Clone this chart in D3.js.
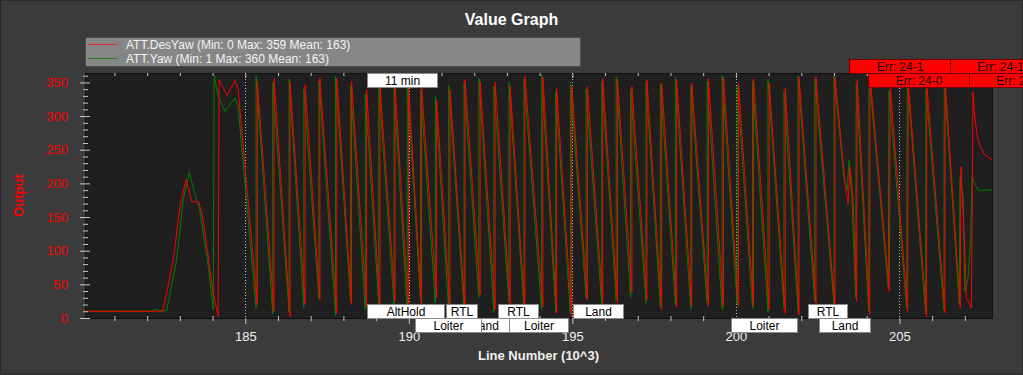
<!DOCTYPE html>
<html>
<head>
<meta charset="utf-8">
<script src="https://d3js.org/d3.v7.min.js"></script>
<style>
  html, body { margin: 0; padding: 0; background: #3b3b3b; overflow: hidden; }
  svg { display: block; font-family: "Liberation Sans", Arial, sans-serif; }
</style>
</head>
<body>
<div id="chart"></div>
<script>
// Axis ticks (x in thousands of log lines, y in degrees)
const xTicks = [185, 190, 195, 200, 205];
const yTicks = [0, 50, 100, 150, 200, 250, 300, 350];
const legendLabels = ["ATT.DesYaw (Min: 0 Max: 359 Mean: 163)", "ATT.Yaw (Min: 1 Max: 360 Mean: 163)"];

// ATT.DesYaw (red): take-off part, sawtooth jumps, then the end of the log
const desYawHead = [[180.10, 10], [182.48, 10], [182.80, 86], [183.00, 165], [183.19, 206], [183.30, 185],
  [183.36, 173], [183.58, 172], [183.70, 150], [184.02, 37], [184.17, 2], [184.20, 354], [184.44, 331],
  [184.69, 353], [184.78, 340]];
const desYawJumps = [185.37, 185.88, 186.37, 186.83, 187.28, 187.80, 188.25, 188.71, 189.12, 189.58,
  189.99, 190.39, 190.85, 191.26, 191.72, 192.18, 192.64, 193.10, 193.55, 194.10, 194.52, 194.98, 195.46,
  195.93, 196.38, 196.82, 197.28, 197.73, 198.19, 198.65, 199.16, 199.62, 200.08, 200.54, 201.02, 201.51,
  201.93, 202.45];
const desYawPeaks = [352, 356, 351, 346, 357, 356, 351, 339, 344, 346, 344, 344, 324, 339, 354, 351, 350,
  344, 359, 358, 341, 346, 344, 356, 354, 344, 354, 349, 354, 349, 356, 358, 349, 356, 349, 341, 358, 358];
const desYawTroughs = [20, 10, 2, 20, 27, 7, 20, 17, 15, 25, 12, 20, 30, 15, 10, 35, 12, 20, 8, 17, 7, 2,
  27, 22, 22, 37, 27, 12, 17, 17, 17, 17, 17, 17, 12, 7, 5, 22];
const desYawTail = [[203.03, 15], [203.03, 358], [203.34, 200], [203.43, 170], [203.49, 225], [203.58, 180],
  [203.69, 25], [203.71, 353], [204.09, 5], [204.10, 359], [204.69, 40], [204.72, 344], [205.25, 10],
  [205.27, 350], [205.83, 2], [205.84, 345], [206.39, 8], [206.40, 350], [206.86, 15], [206.88, 225],
  [206.98, 120], [207.05, 30], [207.20, 15], [207.25, 336], [207.30, 300], [207.38, 270], [207.47, 255],
  [207.60, 243], [207.83, 235]];

// ATT.Yaw (green)
const yawHead = [[180.10, 10], [182.10, 10], [182.30, 13], [182.45, 10], [182.60, 12], [182.90, 86],
  [183.10, 175], [183.29, 216], [183.46, 185], [183.61, 161], [183.87, 76], [184.02, 12], [184.05, 361],
  [184.17, 330], [184.38, 307], [184.69, 327], [184.78, 315]];
const yawJumps = [185.33, 185.84, 186.34, 186.79, 187.25, 187.76, 188.22, 188.67, 189.08, 189.55, 189.95,
  190.36, 190.81, 191.22, 191.69, 192.14, 192.60, 193.06, 193.52, 194.06, 194.49, 194.94, 195.42, 195.90,
  196.34, 196.78, 197.25, 197.69, 198.15, 198.62, 199.12, 199.58, 200.04, 200.51, 200.98, 201.47, 201.90,
  202.41];
const yawPeaks = [360, 350, 355, 340, 352, 359, 345, 333, 348, 341, 350, 338, 330, 345, 349, 356, 344, 350,
  355, 361, 336, 350, 340, 352, 358, 340, 350, 348, 357, 344, 352, 360, 345, 352, 355, 336, 360, 355];
const yawTroughs = [15, 6, 8, 15, 30, 4, 25, 12, 20, 18, 8, 25, 22, 10, 14, 30, 8, 24, 12, 12, 10, 6, 30,
  18, 26, 30, 22, 16, 20, 12, 22, 12, 20, 14, 8, 16, 10, 25];
const yawTail = [[203.00, 20], [203.00, 360], [203.30, 210], [203.40, 190], [203.46, 235], [203.55, 175],
  [203.66, 30], [203.68, 348], [204.06, 10], [204.07, 362], [204.66, 45], [204.68, 338], [205.22, 15],
  [205.24, 355], [205.80, 6], [205.81, 340], [206.36, 12], [206.37, 355], [206.83, 20], [206.85, 209],
  [206.95, 180], [207.00, 40], [207.10, 60], [207.18, 120], [207.22, 209], [207.30, 200], [207.40, 190],
  [207.83, 190]];

// Flight mode / message labels: [text, from line, to line]
const timeMarks = [["11 min", 188.71, 190.85]];
const modesUpper = [["AltHold", 188.71, 191.09], ["RTL", 191.13, 192.08], ["RTL", 192.74, 193.96],
  ["Land", 195.01, 196.54], ["RTL", 202.19, 203.41]];
const modesLower = [["Land", 191.55, 193.08], ["Loiter", 190.19, 192.20], ["Loiter", 193.07, 194.88],
  ["Loiter", 199.84, 201.88], ["Land", 202.55, 204.10]];
const errorsUpper = [["Err: 24-1", 203.47, 206.55], ["Err: 24-1", 206.55, 209.61]];
const errorsLower = [["Err: 24-0", 204.05, 207.13], ["Err: 24-0", 207.13, 210.19]];

// Layout
const width = 1023, height = 375;
const plot = { left: 85, top: 73, right: 992, bottom: 318 };

const svg = d3.select("#chart")
  .append("svg")
  .attr("width", width)
  .attr("height", height);

svg.append("rect")
  .attr("x", 0.5).attr("y", 0.5)
  .attr("width", width - 1).attr("height", height - 2)
  .attr("fill", "#3b3b3b")
  .attr("stroke", "#2a2a2a");

const x = d3.scaleLinear().domain([180.1, 207.83]).range([plot.left, plot.right]);
const y = d3.scaleLinear().domain([0, 364]).range([plot.bottom, plot.top]);

// Title
svg.append("text")
  .attr("x", width / 2).attr("y", 25)
  .attr("text-anchor", "middle")
  .attr("fill", "#ffffff")
  .attr("font-weight", "bold")
  .attr("font-size", 16)
  .text("Value Graph");

// Plot background
svg.append("rect")
  .attr("x", plot.left).attr("y", plot.top)
  .attr("width", plot.right - plot.left).attr("height", plot.bottom - plot.top)
  .attr("fill", "#1f1f1f")
  .attr("stroke", "#111")
  .attr("shape-rendering", "crispEdges");

svg.append("clipPath").attr("id", "clip")
  .append("rect")
  .attr("x", plot.left).attr("y", plot.top)
  .attr("width", plot.right - plot.left).attr("height", plot.bottom - plot.top);

// Dotted grid lines at major x ticks
svg.append("g")
  .selectAll("line")
  .data(xTicks)
  .join("line")
  .attr("x1", d => Math.round(x(d)) + 0.5).attr("x2", d => Math.round(x(d)) + 0.5)
  .attr("y1", plot.top).attr("y2", plot.bottom)
  .attr("stroke", "#bbbbbb")
  .attr("stroke-dasharray", "1,2");

// Build the vertex lists from the arrays
function buildSeries(head, jumps, peaks, troughs, tail) {
  const pts = head.slice();
  jumps.forEach((j, i) => { pts.push([j, troughs[i]], [j, peaks[i]]); });
  return pts.concat(tail);
}
const desYaw = buildSeries(desYawHead, desYawJumps, desYawPeaks, desYawTroughs, desYawTail);
const yaw = buildSeries(yawHead, yawJumps, yawPeaks, yawTroughs, yawTail);

const line = d3.line().x(d => x(d[0])).y(d => y(d[1]));

const curves = svg.append("g").attr("clip-path", "url(#clip)");
curves.append("path")
  .datum(yaw)
  .attr("d", line)
  .attr("fill", "none")
  .attr("stroke", "#008000")
  .attr("stroke-width", 1);
curves.append("path")
  .datum(desYaw)
  .attr("d", line)
  .attr("fill", "none")
  .attr("stroke", "#ff0000")
  .attr("stroke-width", 1);

// X axis ticks: minor every 1k lines, major every 5k, top and bottom
const xMinor = d3.range(181, 208).filter(v => !xTicks.includes(v));
const tickColor = "#c8c8c8";

function styleAxis(g) {
  g.select(".domain").remove();
  g.selectAll("line").attr("stroke", tickColor);
}

svg.append("g")
  .attr("transform", `translate(0,${plot.bottom - 2})`)
  .call(d3.axisBottom(x).tickValues(xMinor).tickSize(5).tickFormat(""))
  .call(styleAxis);
svg.append("g")
  .attr("transform", `translate(0,${plot.bottom})`)
  .call(d3.axisBottom(x).tickValues(xTicks).tickSize(6).tickPadding(8).tickFormat(d3.format("d")))
  .call(styleAxis)
  .call(g => g.selectAll("text").attr("fill", "#f0f0f0").attr("font-size", 13).attr("font-family", null));
svg.append("g")
  .attr("transform", `translate(0,${plot.top})`)
  .call(d3.axisBottom(x).tickValues(xMinor).tickSize(3).tickFormat(""))
  .call(styleAxis);
svg.append("g")
  .attr("transform", `translate(0,${plot.top})`)
  .call(d3.axisBottom(x).tickValues(xTicks).tickSize(5).tickFormat(""))
  .call(styleAxis);

// Y axis: minor every 10, major every 50
const yMinor = d3.range(0, 361, 10).filter(v => !yTicks.includes(v));
svg.append("g")
  .attr("transform", `translate(${plot.left + 3},0)`)
  .call(d3.axisLeft(y).tickValues(yMinor).tickSize(5).tickFormat(""))
  .call(styleAxis);
svg.append("g")
  .attr("transform", `translate(${plot.left + 5},0)`)
  .call(d3.axisLeft(y).tickValues(yTicks).tickSize(10).tickPadding(12))
  .call(styleAxis)
  .call(g => g.selectAll("text").attr("fill", "#ff0000").attr("font-size", 13).attr("font-family", null));

// Axis titles
svg.append("text")
  .attr("x", (plot.left + plot.right) / 2).attr("y", 360)
  .attr("text-anchor", "middle")
  .attr("fill", "#f0f0f0")
  .attr("font-weight", "bold")
  .attr("font-size", 13)
  .text("Line Number (10^3)");

svg.append("text")
  .attr("transform", `translate(23,${(plot.top + plot.bottom) / 2}) rotate(-90)`)
  .attr("text-anchor", "middle")
  .attr("fill", "#ff0000")
  .attr("font-weight", "bold")
  .attr("font-size", 13)
  .text("Output");

// Legend
const legend = svg.append("g").attr("transform", `translate(${plot.left},37)`);
legend.append("rect")
  .attr("x", 0.5).attr("y", 0.5)
  .attr("width", 495).attr("height", 29)
  .attr("fill", "#868686")
  .attr("stroke", "#4a4a4a");
legend.selectAll("line")
  .data(["#e03030", "#208020"])
  .join("line")
  .attr("x1", 3).attr("x2", 32)
  .attr("y1", (d, i) => 7.5 + i * 14).attr("y2", (d, i) => 7.5 + i * 14)
  .attr("stroke", d => d);
legend.selectAll("text")
  .data(legendLabels)
  .join("text")
  .attr("x", 41)
  .attr("y", (d, i) => 12 + i * 14)
  .attr("fill", "#f4f4f4")
  .attr("font-size", 12)
  .text(d => d);

// Label boxes
function drawLabels(items, top, fill, stroke, textColor) {
  const g = svg.append("g");
  items.forEach(([label, from, to]) => {
    const x0 = Math.round(x(from)) + 0.5, x1 = Math.round(x(to)) + 0.5;
    g.append("rect")
      .attr("x", x0).attr("y", top + 0.5)
      .attr("width", x1 - x0).attr("height", 14)
      .attr("fill", fill)
      .attr("stroke", stroke);
    g.append("text")
      .attr("x", (x0 + x1) / 2).attr("y", top + 12)
      .attr("text-anchor", "middle")
      .attr("fill", textColor)
      .attr("font-size", 12)
      .text(label);
  });
}

drawLabels(timeMarks, plot.top, "#ffffff", "#8a8a8a", "#000");
drawLabels(modesUpper, plot.bottom - 14, "#ffffff", "#8a8a8a", "#000");
drawLabels(modesLower, plot.bottom, "#ffffff", "#8a8a8a", "#000");
drawLabels(errorsUpper, plot.top - 14, "#ff0000", "#700000", "#1a0000");
drawLabels(errorsLower, plot.top, "#ff0000", "#700000", "#1a0000");
</script>
</body>
</html>
